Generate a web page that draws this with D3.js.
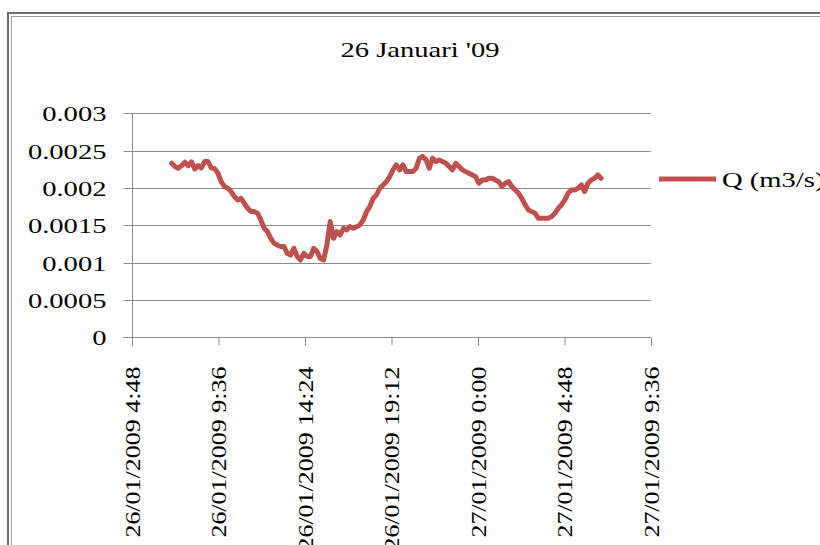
<!DOCTYPE html>
<html>
<head>
<meta charset="utf-8">
<script src="https://cdn.jsdelivr.net/npm/d3@7"></script>
<style>
  html, body { margin: 0; padding: 0; background: #fff; }
  svg { display: block; }
  text { font-family: "Liberation Serif", "Times New Roman", serif; fill: #000; }
</style>
</head>
<body>
<svg id="chart" width="820" height="545"></svg>
<script>
// ---- data ----
const title = "26 Januari '09";
const seriesName = "Q (m3/s)";
const startTime = "2009-01-26T07:00";
const stepMinutes = 11;
const qValues = [
  0.002332, 0.002287, 0.002265, 0.002300, 0.002346, 0.002300, 0.002350, 0.002256, 0.002300, 0.002270,
  0.002354, 0.002354, 0.002270, 0.002260, 0.002198, 0.002086, 0.002019, 0.001997, 0.001952, 0.001885,
  0.001840, 0.001863, 0.001796, 0.001729, 0.001684,
  0.001684, 0.001662, 0.001572, 0.001461, 0.001416, 0.001327, 0.001260, 0.001237, 0.001215, 0.001215,
  0.001126, 0.001103, 0.001193, 0.001081, 0.001036, 0.001126, 0.001081, 0.001081, 0.001193, 0.001148,
  0.001059, 0.001036, 0.001237, 0.001550, 0.001327, 0.001416,
  0.001371,
  0.001461, 0.001438, 0.001483, 0.001461, 0.001483, 0.001505, 0.001572, 0.001684, 0.001751, 0.001863,
  0.001908, 0.001997, 0.002042, 0.002086, 0.002153, 0.002243, 0.002310, 0.002243, 0.002310, 0.002220,
  0.002220, 0.002220, 0.002265, 0.002400, 0.002421, 0.002377, 0.002265,
  0.002400, 0.002354, 0.002377, 0.002354, 0.002332, 0.002287, 0.002243, 0.002332, 0.002287, 0.002243,
  0.002220, 0.002198, 0.002176, 0.002153, 0.002064, 0.002109, 0.002109, 0.002131, 0.002131, 0.002109,
  0.002086, 0.002019, 0.002064, 0.002086, 0.002019, 0.001975, 0.001930,
  0.001863, 0.001773, 0.001706, 0.001684, 0.001662, 0.001595, 0.001595, 0.001595, 0.001595, 0.001617,
  0.001662, 0.001729, 0.001773, 0.001840, 0.001930, 0.001975, 0.001975, 0.001997, 0.002042, 0.001952,
  0.002064, 0.002109, 0.002131, 0.002176, 0.002131
];
const xTickTimes = ["2009-01-26T04:48", "2009-01-26T09:36", "2009-01-26T14:24", "2009-01-26T19:12",
                    "2009-01-27T00:00", "2009-01-27T04:48", "2009-01-27T09:36"];
const xTickLabels = ["26/01/2009 4:48", "26/01/2009 9:36", "26/01/2009 14:24", "26/01/2009 19:12",
                     "27/01/2009 0:00", "27/01/2009 4:48", "27/01/2009 9:36"];
const yTicks = [0, 0.0005, 0.001, 0.0015, 0.002, 0.0025, 0.003];
const yTickLabels = ["0", "0.0005", "0.001", "0.0015", "0.002", "0.0025", "0.003"];

// ---- build ----
const parse = d3.timeParse("%Y-%m-%dT%H:%M");
const t0 = parse(startTime);
const data = qValues.map((v, i) => ({ t: d3.timeMinute.offset(t0, i * stepMinutes), v }));
const tickDates = xTickTimes.map(parse);

const svg = d3.select("#chart");
const STRETCH = 1.3;

// frame
svg.append("rect").attr("x", 8).attr("y", 13).attr("width", 830).attr("height", 560)
  .attr("fill", "#fff").attr("stroke", "#6e6e6e").attr("stroke-width", 2);
svg.append("rect").attr("x", 11.5).attr("y", 16.5).attr("width", 830).attr("height", 560)
  .attr("fill", "none").attr("stroke", "#9a9a9a").attr("stroke-width", 1);

const x = d3.scaleTime().domain([tickDates[0], tickDates[tickDates.length - 1]]).range([132, 651]);
const y = d3.scaleLinear().domain([0, 0.003]).range([337.3, 113.4]);

// gridlines
svg.append("g")
  .selectAll("line").data(yTicks.slice(1)).join("line")
  .attr("x1", 132).attr("x2", 651)
  .attr("y1", d => Math.round(y(d)) + 0.5).attr("y2", d => Math.round(y(d)) + 0.5)
  .attr("stroke", "#8c8c8c").attr("stroke-width", 1);

// y axis
const yAxis = svg.append("g").attr("transform", "translate(132.5,0)")
  .call(d3.axisLeft(y).tickValues(yTicks).tickSize(9).tickPadding(0)
    .tickFormat((d, i) => yTickLabels[i]));
yAxis.select(".domain").attr("stroke", "#8c8c8c").attr("d", `M0,${y(0.003)}V${y(0)+8}`);
yAxis.selectAll(".tick line").attr("stroke", "#8c8c8c");
yAxis.selectAll(".tick").attr("transform", d => `translate(0,${Math.round(y(d)) + 0.5})`);
yAxis.selectAll(".tick text")
  .attr("x", null).attr("dy", "0.34em")
  .attr("transform", `translate(-26,0) scale(${STRETCH},1)`)
  .style("font-family", "'Liberation Serif', serif").style("font-size", "22px")
  .attr("text-anchor", "end").attr("fill", "#000");

// x axis
const xAxis = svg.append("g").attr("transform", `translate(0,${Math.round(y(0)) + 0.5})`)
  .call(d3.axisBottom(x).tickValues(tickDates).tickSize(8).tickPadding(0)
    .tickFormat((d, i) => xTickLabels[i]));
xAxis.select(".domain").attr("stroke", "#8c8c8c").attr("d", "M123,0H651");
xAxis.selectAll(".tick line").attr("stroke", "#8c8c8c");
xAxis.selectAll(".tick text")
  .attr("y", null).attr("dy", "0.35em")
  .attr("transform", `translate(0,29) rotate(-90) scale(${STRETCH},1)`)
  .attr("text-anchor", "end")
  .style("font-family", "'Liberation Serif', serif").style("font-size", "20px")
  .attr("fill", "#000");

// line
const line = d3.line().x(d => x(d.t)).y(d => y(d.v));
svg.append("path").datum(data)
  .attr("d", line).attr("fill", "none")
  .attr("stroke", "#C0504D").attr("stroke-width", 5)
  .attr("stroke-linejoin", "round").attr("stroke-linecap", "round");

// title
svg.append("text").attr("transform", `translate(420,57) scale(${STRETCH},1)`)
  .attr("text-anchor", "middle").style("font-size", "22px").text(title);

// legend
svg.append("line").attr("x1", 659).attr("x2", 716).attr("y1", 179).attr("y2", 179)
  .attr("stroke", "#C0504D").attr("stroke-width", 5);
svg.append("text").attr("transform", `translate(722,186.5) scale(${STRETCH},1)`)
  .style("font-size", "22px").text(seriesName);
</script>
</body>
</html>
